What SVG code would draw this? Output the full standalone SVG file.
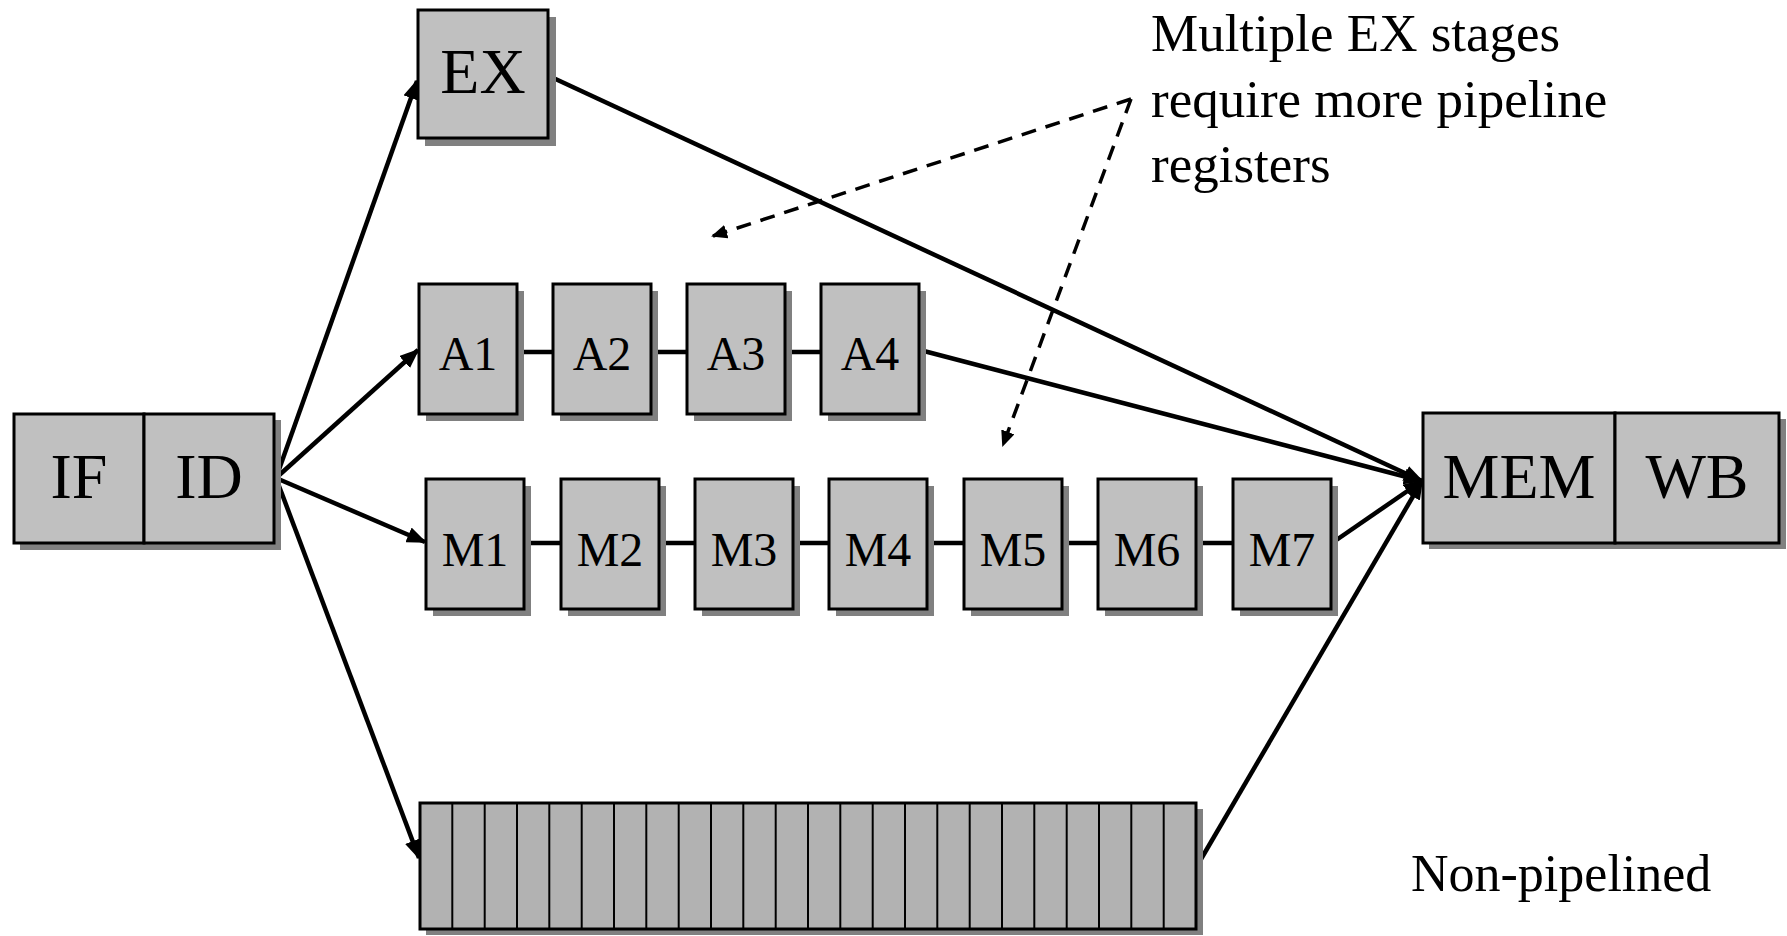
<svg xmlns="http://www.w3.org/2000/svg" width="1787" height="936" viewBox="0 0 1787 936">
<defs>
<style>
.box{fill:#c0c0c0;stroke:#000;stroke-width:3}
.sh{fill:#808080}
.np{fill:#b2b2b2;stroke:#000;stroke-width:3}
.cell{stroke:#000;stroke-width:2}
.t{font-family:"Liberation Serif","Times New Roman",serif;fill:#000;text-anchor:middle}
.big{font-size:64px}
.sm{font-size:48px}
.note{font-family:"Liberation Serif","Times New Roman",serif;font-size:53px;fill:#000}
.c{stroke:#000;stroke-width:4.5;fill:none}
.d{stroke:#000;stroke-width:3.5;fill:none;stroke-dasharray:15 10}
</style>
<marker id="arr" viewBox="0 0 20 16" refX="18" refY="8" markerWidth="20" markerHeight="16" markerUnits="userSpaceOnUse" orient="auto">
<path d="M0,0 L20,8 L0,16 Z" fill="#000"/>
</marker>
<marker id="arrs" viewBox="0 0 16 14" refX="14" refY="7" markerWidth="16" markerHeight="14" markerUnits="userSpaceOnUse" orient="auto">
<path d="M0,0 L16,7 L0,14 Z" fill="#000"/>
</marker>
</defs>
<rect width="1787" height="936" fill="#fff"/>

<g id="connectors">
<line class="c" x1="276" y1="478" x2="417" y2="81" marker-end="url(#arr)"/>
<line class="c" x1="276" y1="478" x2="418" y2="350" marker-end="url(#arr)"/>
<line class="c" x1="276" y1="478" x2="425" y2="542" marker-end="url(#arr)"/>
<line class="c" x1="276" y1="478" x2="419" y2="858" marker-end="url(#arr)"/>
<line class="c" x1="549" y1="76" x2="1422" y2="481" marker-end="url(#arr)"/>
<line class="c" x1="920" y1="350" x2="1422" y2="481" marker-end="url(#arr)"/>
<line class="c" x1="1332" y1="543" x2="1422" y2="481" marker-end="url(#arr)"/>
<line class="c" x1="1197" y1="866" x2="1422" y2="481" marker-end="url(#arr)"/>
<line class="c" x1="517" y1="352" x2="553" y2="352"/>
<line class="c" x1="651" y1="352" x2="687" y2="352"/>
<line class="c" x1="785" y1="352" x2="821" y2="352"/>
<line class="c" x1="524" y1="543" x2="561" y2="543"/>
<line class="c" x1="659" y1="543" x2="695" y2="543"/>
<line class="c" x1="793" y1="543" x2="829" y2="543"/>
<line class="c" x1="927" y1="543" x2="964" y2="543"/>
<line class="c" x1="1062" y1="543" x2="1098" y2="543"/>
<line class="c" x1="1196" y1="543" x2="1233" y2="543"/>
<line class="d" x1="1131" y1="99" x2="713" y2="236" marker-end="url(#arrs)"/>
<line class="d" x1="1131" y1="99" x2="1003" y2="445" marker-end="url(#arrs)"/>
</g>

<g id="IF-ID">
<rect class="sh" x="20" y="420" width="261" height="130"/>
<rect class="box" x="14" y="414" width="130" height="129"/>
<rect class="box" x="144" y="414" width="130" height="129"/>
<text class="t big" x="79" y="498">IF</text>
<text class="t big" x="209" y="498">ID</text>
</g>

<g id="EX">
<rect class="sh" x="425" y="17" width="131" height="129"/>
<rect class="box" x="418" y="10" width="130" height="128"/>
<text class="t big" x="483" y="93">EX</text>
</g>

<g id="A1"><rect class="sh" x="426" y="291" width="98" height="130"/><rect class="box" x="419" y="284" width="98" height="130"/><text class="t sm" x="468" y="370">A1</text></g>
<g id="A2"><rect class="sh" x="560" y="291" width="98" height="130"/><rect class="box" x="553" y="284" width="98" height="130"/><text class="t sm" x="602" y="370">A2</text></g>
<g id="A3"><rect class="sh" x="694" y="291" width="98" height="130"/><rect class="box" x="687" y="284" width="98" height="130"/><text class="t sm" x="736" y="370">A3</text></g>
<g id="A4"><rect class="sh" x="828" y="291" width="98" height="130"/><rect class="box" x="821" y="284" width="98" height="130"/><text class="t sm" x="870" y="370">A4</text></g>

<g id="M1"><rect class="sh" x="433" y="486" width="98" height="130"/><rect class="box" x="426" y="479" width="98" height="130"/><text class="t sm" x="475" y="566">M1</text></g>
<g id="M2"><rect class="sh" x="568" y="486" width="98" height="130"/><rect class="box" x="561" y="479" width="98" height="130"/><text class="t sm" x="610" y="566">M2</text></g>
<g id="M3"><rect class="sh" x="702" y="486" width="98" height="130"/><rect class="box" x="695" y="479" width="98" height="130"/><text class="t sm" x="744" y="566">M3</text></g>
<g id="M4"><rect class="sh" x="836" y="486" width="98" height="130"/><rect class="box" x="829" y="479" width="98" height="130"/><text class="t sm" x="878" y="566">M4</text></g>
<g id="M5"><rect class="sh" x="971" y="486" width="98" height="130"/><rect class="box" x="964" y="479" width="98" height="130"/><text class="t sm" x="1013" y="566">M5</text></g>
<g id="M6"><rect class="sh" x="1105" y="486" width="98" height="130"/><rect class="box" x="1098" y="479" width="98" height="130"/><text class="t sm" x="1147" y="566">M6</text></g>
<g id="M7"><rect class="sh" x="1240" y="486" width="98" height="130"/><rect class="box" x="1233" y="479" width="98" height="130"/><text class="t sm" x="1282" y="566">M7</text></g>

<g id="MEM-WB">
<rect class="sh" x="1429" y="419" width="357" height="130"/>
<rect class="box" x="1423" y="413" width="192" height="130"/>
<rect class="box" x="1615" y="413" width="164" height="130"/>
<text class="t big" x="1519" y="498">MEM</text>
<text class="t big" x="1697" y="498">WB</text>
</g>

<g id="non-pipelined">
<rect class="sh" x="426" y="809" width="777" height="126"/>
<rect class="np" x="420" y="803" width="776" height="126"/>
<g class="cell">
<line x1="452.3" y1="803" x2="452.3" y2="929"/><line x1="484.7" y1="803" x2="484.7" y2="929"/><line x1="517" y1="803" x2="517" y2="929"/><line x1="549.3" y1="803" x2="549.3" y2="929"/><line x1="581.7" y1="803" x2="581.7" y2="929"/><line x1="614" y1="803" x2="614" y2="929"/><line x1="646.3" y1="803" x2="646.3" y2="929"/><line x1="678.7" y1="803" x2="678.7" y2="929"/><line x1="711" y1="803" x2="711" y2="929"/><line x1="743.3" y1="803" x2="743.3" y2="929"/><line x1="775.7" y1="803" x2="775.7" y2="929"/><line x1="808" y1="803" x2="808" y2="929"/><line x1="840.3" y1="803" x2="840.3" y2="929"/><line x1="872.7" y1="803" x2="872.7" y2="929"/><line x1="905" y1="803" x2="905" y2="929"/><line x1="937.3" y1="803" x2="937.3" y2="929"/><line x1="969.7" y1="803" x2="969.7" y2="929"/><line x1="1002" y1="803" x2="1002" y2="929"/><line x1="1034.3" y1="803" x2="1034.3" y2="929"/><line x1="1066.7" y1="803" x2="1066.7" y2="929"/><line x1="1099" y1="803" x2="1099" y2="929"/><line x1="1131.3" y1="803" x2="1131.3" y2="929"/><line x1="1163.7" y1="803" x2="1163.7" y2="929"/>
</g>
</g>

<g id="note">
<text class="note" x="1151" y="51">Multiple EX stages</text>
<text class="note" x="1151" y="117">require more pipeline</text>
<text class="note" x="1151" y="182">registers</text>
</g>
<g id="label-nonpipelined">
<text class="note" x="1411" y="891" style="font-size:52px">Non-pipelined</text>
</g>
</svg>
